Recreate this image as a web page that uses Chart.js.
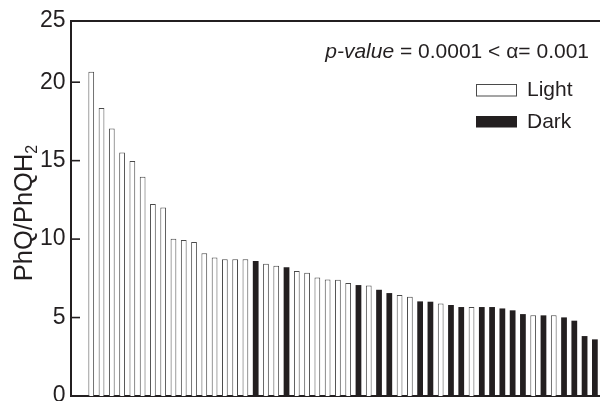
<!DOCTYPE html>
<html>
<head>
<meta charset="utf-8">
<script src="https://cdn.jsdelivr.net/npm/chart.js@4/dist/chart.umd.min.js"></script>
<style>
html,body{margin:0;padding:0;background:#fff;}
#wrap{width:600px;height:401px;position:relative;}
</style>
</head>
<body>
<div id="wrap"><canvas id="c"></canvas></div>
<script>
// ---- data (sorted samples) ----
const sampleIndex = Array.from({length: 50}, (_, i) => i + 1);
const ratios = [20.66, 18.36, 17.05, 15.52, 14.97, 13.97, 12.23, 12.02, 10.02, 9.94,
                9.81, 9.09, 8.83, 8.71, 8.71, 8.71, 8.60, 8.43, 8.30, 8.20,
                7.96, 7.85, 7.56, 7.43, 7.41, 7.20, 7.07, 7.05, 6.77, 6.56,
                6.43, 6.32, 6.03, 6.01, 5.90, 5.80, 5.67, 5.67, 5.67, 5.67,
                5.58, 5.46, 5.22, 5.14, 5.14, 5.14, 5.01, 4.80, 3.82, 3.61];
const groups = ['L','L','L','L','L','L','L','L','L','L',
                'L','L','L','L','L','L','D','L','L','D',
                'L','L','L','L','L','L','D','L','D','D',
                'L','L','D','D','L','D','D','L','D','D',
                'D','D','D','L','D','L','D','D','D','D'];
const seriesNames = {L: 'Light', D: 'Dark'};
const yTickValues = [0, 5, 10, 15, 20, 23.9];
const yTickLabels = ['0', '5', '10', '15', '20', '25'];
const yMarkValues = [5, 10, 15, 20];
const yMax = 23.9;
const annotationText = {italic: 'p-value', rest: ' = 0.0001 < \u03b1= 0.001'};
const yTitle = {main: 'PhQ/PhQH', sub: '2'};

const INK = '#231f20';
const FONT = "'Liberation Sans', Arial, sans-serif";

function pointsFor(g) {
  const pts = [];
  ratios.forEach((v, i) => { if (groups[i] === g) pts.push({x: sampleIndex[i] - 1, y: v}); });
  return pts;
}

const overlay = {
  id: 'overlay',
  afterDraw(chart) {
    const ctx = chart.ctx;
    const ys = chart.scales.y;
    const left = chart.chartArea.left;
    ctx.save();
    // inward tick marks on the y axis
    ctx.fillStyle = INK;
    for (let k = 0; k < yMarkValues.length; k++) {
      const py = ys.getPixelForValue(yMarkValues[k]);
      ctx.fillRect(left - 1, py - 0.8, 10, 1.6);
    }

    // annotation (right aligned)
    ctx.textBaseline = 'alphabetic';
    ctx.font = '21px ' + FONT;
    const restW = ctx.measureText(annotationText.rest).width;
    ctx.font = 'italic 21px ' + FONT;
    const itW = ctx.measureText(annotationText.italic).width;
    const right = 589;
    const base = 58;
    ctx.textAlign = 'left';
    ctx.fillText(annotationText.italic, right - restW - itW, base);
    ctx.font = '21px ' + FONT;
    ctx.fillText(annotationText.rest, right - restW, base);

    // legend
    const ds = chart.data.datasets;
    const rows = [{y: 84, h: 12.5, base: 95.5}, {y: 116, h: 11.5, base: 127.5}];
    ds.forEach((d, i) => {
      const r = rows[i];
      ctx.fillStyle = d.backgroundColor;
      ctx.fillRect(476, r.y, 41, r.h);
      if (d.borderWidth) {
        ctx.strokeStyle = d.borderColor;
        ctx.lineWidth = 1;
        ctx.strokeRect(476.5, r.y + 0.5, 40, r.h - 1);
      }
      ctx.fillStyle = INK;
      ctx.font = '21px ' + FONT;
      ctx.fillText(d.label, 527, r.base);
    });

    // y title with subscript
    ctx.translate(32, 213);
    ctx.rotate(-Math.PI / 2);
    ctx.font = '25.5px ' + FONT;
    const mw = ctx.measureText(yTitle.main).width;
    ctx.font = '16px ' + FONT;
    const sw = ctx.measureText(yTitle.sub).width;
    const start = -(mw + sw) / 2;
    ctx.font = '25.5px ' + FONT;
    ctx.fillText(yTitle.main, start, 0);
    ctx.font = '16px ' + FONT;
    ctx.fillText(yTitle.sub, start + mw, 5);
    ctx.restore();
  }
};

new Chart(document.getElementById('c'), {
  type: 'bar',
  data: {
    datasets: [
      {label: seriesNames.L, data: pointsFor('L'), backgroundColor: '#ffffff',
       borderColor: '#4a4a4a', borderWidth: 1, borderSkipped: 'start'},
      {label: seriesNames.D, data: pointsFor('D'), backgroundColor: INK,
       borderWidth: 0}
    ]
  },
  options: {
    responsive: true,
    maintainAspectRatio: false,
    animation: false,
    grouped: false,
    categoryPercentage: 1,
    barPercentage: 0.56,
    layout: {padding: {left: 0, right: 0, top: 21, bottom: 5}},
    plugins: {legend: {display: false}, tooltip: {enabled: false}},
    scales: {
      x: {
        type: 'linear', position: 'bottom', min: -1.97, max: 49.5, offset: false,
        ticks: {display: false},
        grid: {display: false, drawTicks: false, offset: false},
        border: {display: true, color: INK, width: 2}
      },
      xTop: {
        type: 'linear', position: 'top', min: -1.97, max: 49.5, offset: false,
        ticks: {display: false},
        grid: {display: false, drawTicks: false, offset: false},
        border: {display: true, color: INK, width: 2}
      },
      y: {
        type: 'linear', position: 'left', min: 0, max: yMax,
        afterBuildTicks(scale) { scale.ticks = yTickValues.map(v => ({value: v})); },
        afterFit(scale) { scale.width = 71; scale.paddingTop = 0; scale.paddingBottom = 0; },
        ticks: {
          color: INK, padding: 5.5, autoSkip: false,
          font: {family: FONT, size: 23},
          callback(value) { const k = yTickValues.indexOf(value); return k >= 0 ? yTickLabels[k] : ''; }
        },
        grid: {display: false, drawTicks: false},
        border: {display: true, color: INK, width: 2}
      }
    }
  },
  plugins: [overlay]
});
</script>
</body>
</html>
